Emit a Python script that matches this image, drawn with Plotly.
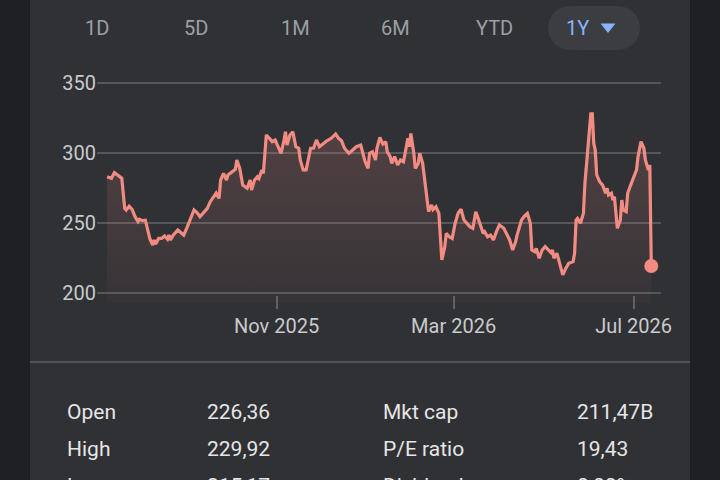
import plotly.graph_objects as go

# ---------------- data ----------------
dates = [
    "2025-07-09", "2025-07-12", "2025-07-14", "2025-07-17", "2025-07-19", "2025-07-21", "2025-07-22",
    "2025-07-24", "2025-07-26", "2025-07-28", "2025-07-30", "2025-07-31", "2025-08-02", "2025-08-04",
    "2025-08-05", "2025-08-07", "2025-08-09", "2025-08-10", "2025-08-11", "2025-08-13", "2025-08-15",
    "2025-08-17", "2025-08-19", "2025-08-20", "2025-08-21", "2025-08-23", "2025-08-26", "2025-08-29",
    "2025-08-30", "2025-09-01", "2025-09-03", "2025-09-06", "2025-09-08", "2025-09-10", "2025-09-12",
    "2025-09-15", "2025-09-17", "2025-09-19", "2025-09-21", "2025-09-23", "2025-09-24", "2025-09-26",
    "2025-09-28", "2025-09-29", "2025-10-02", "2025-10-04", "2025-10-05", "2025-10-07", "2025-10-09",
    "2025-10-12", "2025-10-14", "2025-10-15", "2025-10-17", "2025-10-19", "2025-10-20", "2025-10-22",
    "2025-10-23", "2025-10-25", "2025-10-27", "2025-10-29", "2025-10-31", "2025-11-02", "2025-11-04",
    "2025-11-06", "2025-11-07", "2025-11-08", "2025-11-10", "2025-11-12", "2025-11-14", "2025-11-16",
    "2025-11-17", "2025-11-19", "2025-11-21", "2025-11-24", "2025-11-26", "2025-11-28", "2025-11-30",
    "2025-12-03", "2025-12-05", "2025-12-08", "2025-12-11", "2025-12-13", "2025-12-15", "2025-12-17",
    "2025-12-20", "2025-12-22", "2025-12-25", "2025-12-28", "2025-12-29", "2025-12-31", "2026-01-02",
    "2026-01-03", "2026-01-05", "2026-01-07", "2026-01-08", "2026-01-10", "2026-01-12", "2026-01-14",
    "2026-01-15", "2026-01-17", "2026-01-18", "2026-01-20", "2026-01-22", "2026-01-24", "2026-01-26",
    "2026-01-27", "2026-01-29", "2026-01-30", "2026-01-31", "2026-02-02", "2026-02-03", "2026-02-05",
    "2026-02-06", "2026-02-08", "2026-02-10", "2026-02-12", "2026-02-14", "2026-02-15", "2026-02-17",
    "2026-02-19", "2026-02-21", "2026-02-23", "2026-02-24", "2026-02-26", "2026-02-28", "2026-03-02",
    "2026-03-04", "2026-03-06", "2026-03-08", "2026-03-10", "2026-03-12", "2026-03-14", "2026-03-16",
    "2026-03-18", "2026-03-19", "2026-03-21", "2026-03-22", "2026-03-24", "2026-03-26", "2026-03-28",
    "2026-03-30", "2026-04-01", "2026-04-04", "2026-04-06", "2026-04-08", "2026-04-10", "2026-04-12",
    "2026-04-13", "2026-04-16", "2026-04-18", "2026-04-20", "2026-04-22", "2026-04-23", "2026-04-25",
    "2026-04-26", "2026-04-28", "2026-04-30", "2026-05-02", "2026-05-04", "2026-05-06", "2026-05-07",
    "2026-05-08", "2026-05-10", "2026-05-12", "2026-05-14", "2026-05-16", "2026-05-18", "2026-05-21",
    "2026-05-22", "2026-05-23", "2026-05-24", "2026-05-26", "2026-05-28", "2026-05-29", "2026-05-31",
    "2026-06-02", "2026-06-03", "2026-06-04", "2026-06-05", "2026-06-06", "2026-06-08", "2026-06-10",
    "2026-06-12", "2026-06-13", "2026-06-14", "2026-06-16", "2026-06-17", "2026-06-18", "2026-06-20",
    "2026-06-22", "2026-06-23", "2026-06-24", "2026-06-26", "2026-06-27", "2026-06-29", "2026-07-01",
    "2026-07-03", "2026-07-04", "2026-07-06", "2026-07-08", "2026-07-09", "2026-07-11", "2026-07-12",
    "2026-07-13",
]
prices = [
    283.1, 281.9, 285.9, 283.6, 282.0, 260.5, 259.3,
    262.0, 259.8, 254.5, 251.0, 252.6, 251.7, 252.0,
    247.4, 239.0, 234.3, 237.9, 235.0, 239.0, 239.0,
    240.7, 238.4, 241.4, 237.9, 241.4, 245.0, 242.6,
    241.4, 246.2, 251.0, 259.3, 257.4, 254.5, 256.9,
    260.5, 265.2, 268.0, 271.4, 267.6, 280.7, 285.5,
    280.7, 284.3, 286.6, 288.3, 295.0, 289.0, 277.1,
    274.8, 280.7, 273.6, 280.7, 283.1, 281.9, 287.9,
    285.5, 312.9, 310.5, 308.1, 309.3, 304.5, 299.8,
    309.3, 315.2, 305.7, 312.9, 315.2, 304.5, 303.4,
    295.0, 287.9, 287.9, 303.4, 303.4, 309.3, 304.5,
    307.0, 308.7, 310.5, 313.6, 310.5, 308.8, 303.4,
    299.8, 301.6, 304.5, 305.7, 302.1, 293.8, 289.0,
    299.8, 300.9, 295.0, 303.4, 311.2, 306.4, 308.1,
    300.9, 297.4, 292.6, 297.4, 291.4, 295.0, 293.8,
    298.6, 310.5, 304.5, 314.0, 299.8, 289.0, 292.6,
    299.8, 292.6, 275.9, 258.1, 262.9, 259.6, 261.6,
    256.9, 223.6, 233.1, 242.6, 240.2, 239.0, 249.8,
    256.9, 259.8, 252.1, 249.8, 247.4, 246.2, 258.1,
    252.1, 248.6, 242.6, 243.8, 240.2, 241.4, 237.9,
    243.8, 248.6, 246.2, 242.6, 237.9, 230.7, 236.6,
    241.4, 252.1, 255.0, 256.9, 249.8, 230.7, 229.5,
    231.9, 224.8, 230.7, 233.1, 230.7, 228.8, 230.7,
    224.8, 228.4, 220.0, 212.9, 217.6, 221.2, 222.4,
    228.4, 252.1, 253.3, 249.8, 256.9, 278.4, 304.5,
    327.9, 327.9, 306.9, 302.1, 284.3, 279.5, 277.1,
    271.2, 274.8, 270.0, 271.2, 266.4, 268.8, 246.2,
    252.1, 266.4, 259.3, 258.1, 271.2, 277.1, 281.9,
    287.9, 297.4, 308.1, 303.4, 295.0, 287.9, 291.4,
    219.3,
]
y_ticks = [200, 250, 300, 350]
x_tick_dates = ["2025-11-01", "2026-03-01", "2026-07-01"]
x_tick_labels = ["Nov 2025", "Mar 2026", "Jul 2026"]
range_buttons = ["1D", "5D", "1M", "6M", "YTD"]
active_button = "1Y"
stat_labels_left = ["Open", "High", "Low"]
stat_values_left = ["226,36", "229,92", "215,17"]
stat_labels_right = ["Mkt cap", "P/E ratio", "Dividend"]
stat_values_right = ["211,47B", "19,43", "0,00%"]

# ---------------- layout helpers (pixel -> paper) ----------------
W, H = 720, 480
L, R, T, B = 97, 661, 70, 303


def px(x):
    return (x - L) / (R - L)


def py(y):
    return (B - y) / (B - T)


LINE = "#f28b82"
CARD = "#303135"
OUTER = "#1f2023"
TXT = "#c8cacc"
FONT = "Roboto"

fig = go.Figure()
fig.add_trace(go.Scatter(
    x=dates, y=prices, mode="lines",
    line=dict(color=LINE, width=3.2),
    fill="tozeroy",
    fillgradient=dict(
        type="vertical",
        colorscale=[[0, "rgba(242,139,130,0.03)"], [1, "rgba(242,139,130,0.19)"]],
        start=193, stop=330,
    ),
    hoverinfo="skip", showlegend=False,
))
fig.add_trace(go.Scatter(
    x=[dates[-1]], y=[prices[-1]], mode="markers",
    marker=dict(color=LINE, size=14),
    hoverinfo="skip", showlegend=False,
))

shapes = []
# dark outer strips
shapes.append(dict(type="rect", xref="paper", yref="paper", x0=px(0), x1=px(30), y0=py(480), y1=py(0),
                   fillcolor=OUTER, line=dict(width=0), layer="below"))
shapes.append(dict(type="rect", xref="paper", yref="paper", x0=px(690), x1=px(720), y0=py(480), y1=py(0),
                   fillcolor=OUTER, line=dict(width=0), layer="below"))
# separator
shapes.append(dict(type="line", xref="paper", yref="paper", x0=px(30), x1=px(690), y0=py(362), y1=py(362),
                   line=dict(color="#505256", width=2)))
# active pill
PILL = "#3b3d41"
shapes.append(dict(type="rect", xref="paper", yref="paper", x0=px(570), x1=px(618), y0=py(50), y1=py(6),
                   fillcolor=PILL, line=dict(width=0), layer="below"))
for cx in (570, 618):
    shapes.append(dict(type="circle", xref="paper", yref="paper", x0=px(cx - 22), x1=px(cx + 22),
                       y0=py(50), y1=py(6), fillcolor=PILL, line=dict(width=0), layer="below"))
# dropdown triangle
shapes.append(dict(type="path", xref="paper", yref="paper",
                   path=f"M {px(600.5)} {py(23.5)} L {px(615.5)} {py(23.5)} L {px(608)} {py(33)} Z",
                   fillcolor="#8ab4f8", line=dict(width=0)))

ann = []
for lbl, cx in zip(range_buttons, [97, 196, 295, 395, 494]):
    ann.append(dict(text=lbl, x=px(cx), y=py(28), xref="paper", yref="paper", showarrow=False,
                    xanchor="center", yanchor="middle", font=dict(family=FONT, size=20, color="#9aa0a6")))
ann.append(dict(text=active_button, x=px(577), y=py(28), xref="paper", yref="paper", showarrow=False,
                xanchor="center", yanchor="middle", font=dict(family=FONT, size=20, color="#8ab4f8")))

for i, ycen in enumerate([412, 449, 486]):
    for txt, xl in ((stat_labels_left[i], 65), (stat_values_left[i], 205),
                    (stat_labels_right[i], 381), (stat_values_right[i], 575)):
        ann.append(dict(text=txt, x=px(xl), y=py(ycen), xref="paper", yref="paper", showarrow=False,
                        xanchor="left", yanchor="middle",
                        font=dict(family=FONT, size=21, color="#e6e6e6")))

fig.update_layout(
    width=W, height=H, autosize=False,
    margin=dict(l=L, r=W - R, t=T, b=H - B, pad=0),
    paper_bgcolor=CARD, plot_bgcolor=CARD,
    shapes=shapes, annotations=ann,
    font=dict(family=FONT, color=TXT),
    xaxis=dict(
        type="date",
        range=["2025-07-02 05:00", "2026-07-19 14:00"],
        tickvals=x_tick_dates, ticktext=x_tick_labels,
        ticks="outside", ticklen=13, tickwidth=2, tickcolor="#5f6368",
        showgrid=False, zeroline=False, showline=False,
        anchor="free", position=py(295),
        tickfont=dict(family=FONT, size=20, color=TXT),
        fixedrange=True,
    ),
    yaxis=dict(
        range=[192.86, 359.29],
        tickvals=y_ticks,
        showgrid=True, gridcolor="#55575b", gridwidth=1.5,
        zeroline=False, showline=False, ticks="",
        tickfont=dict(family=FONT, size=20, color=TXT),
        fixedrange=True,
    ),
    hovermode=False,
)

fig.write_html("out.html", config={"displayModeBar": False})
